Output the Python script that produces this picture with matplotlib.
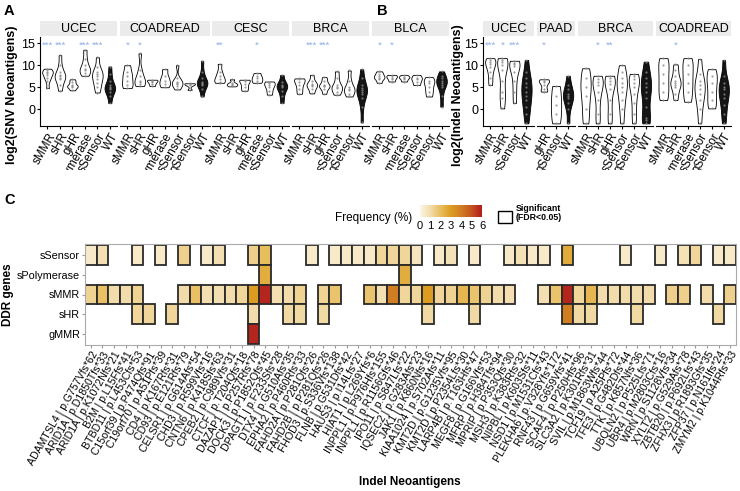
import numpy as np
import matplotlib
matplotlib.use("Agg")
from matplotlib import pyplot as plt
from matplotlib.patches import Rectangle
from matplotlib.colors import LinearSegmentedColormap, Normalize
from matplotlib.cm import ScalarMappable
from matplotlib.transforms import Bbox, TransformedBbox

plt.rcParams['font.family'] = ['Liberation Sans', 'DejaVu Sans']

# ---- panel A: log2(SNV neoantigens) ----
snv_ucec = {
    'sMMR': [4.8, 6.5, 7.2, 7.8, 8.2, 8.5, 8.8, 9.2],
    'sHR': [4.2, 5.5, 6.8, 7.2, 7.5, 7.8, 8.5, 10, 12.3],
    'gHR': [4.3, 5.0, 5.2, 5.5, 6.2, 6.8],
    'sPolymerase': [7.6, 8.3, 8.8, 9.2, 10, 11.5, 13.5],
    'sSensor': [3.8, 5.0, 6.0, 6.8, 7.5, 8.0, 8.5, 9.5, 11.8],
    'WT': [1.4, 3.0, 4.0, 4.5, 4.8, 5.0, 5.5, 6.5, 8.0, 9.7],
}
snv_coadread = {
    'sMMR': [4.8, 5.5, 6.5, 7.5, 8.5, 10],
    'sHR': [5.3, 5.8, 6.2, 6.5, 7.5, 9.0, 12.7],
    'gHR': [5.3, 5.8, 6.2, 6.5, 6.7],
    'sPolymerase': [5.0, 5.8, 6.5, 7.5, 9.1],
    'sSensor': [4.5, 5.3, 5.7, 6.0, 6.3, 7.0, 10],
    'gSensor': [4.4, 5.5, 5.8, 5.9],
    'WT': [2.9, 4.5, 5.5, 5.8, 6.0, 6.3, 7.0, 8.5, 11],
}
snv_cesc = {
    'sMMR': [6.0, 6.3, 6.8, 7.5, 8.5, 10.3],
    'sHR': [5.2, 5.5, 5.7, 6.0, 6.8],
    'gHR': [4.2, 5.0, 5.8, 6.5, 6.7],
    'sPolymerase': [6.0, 6.5, 7.0, 7.5, 8.2],
    'sSensor': [3.3, 4.2, 5.0, 5.5, 6.0, 6.3],
    'WT': [1.4, 3.0, 4.2, 5.0, 5.2, 5.5, 6.2, 7.8],
}
snv_brca = {
    'sMMR': [3.5, 4.5, 5.5, 6.2, 6.8, 7.0],
    'sHR': [3.6, 4.5, 5.2, 5.5, 5.8, 6.5, 7.8],
    'gHR': [3.5, 4.5, 5.2, 5.3, 5.6, 6.5, 7.3],
    'sSensor': [3.3, 4.0, 4.8, 5.0, 5.5, 7.0, 8.6],
    'gSensor': [2.9, 3.5, 4.4, 4.6, 5.0, 6.5, 8.8],
    'WT': [-3.0, 0.5, 2.5, 3.5, 4.0, 4.4, 4.8, 5.5, 7.0, 9.1],
}
snv_blca = {
    'sMMR': [6.0, 6.8, 7.2, 7.5, 8.0, 8.6],
    'sHR': [6.3, 6.8, 7.2, 7.5, 7.8],
    'sPolymerase': [6.3, 6.8, 7.2, 7.4, 7.8],
    'sSensor': [5.5, 6.2, 6.8, 7.2, 7.8],
    'gSensor': [2.9, 4.0, 5.0, 6.0, 6.5, 7.3],
    'WT': [0.6, 3.0, 5.0, 5.5, 6.0, 6.5, 7.0, 7.5, 8.6],
}
snv_facets = ['UCEC', 'COADREAD', 'CESC', 'BRCA', 'BLCA']
snv_data = [snv_ucec, snv_coadread, snv_cesc, snv_brca, snv_blca]
snv_stars = [
    {'sMMR': '***', 'sHR': '***', 'sPolymerase': '***', 'sSensor': '***'},
    {'sMMR': '*', 'sHR': '*'},
    {'sMMR': '**', 'sPolymerase': '*'},
    {'sHR': '***', 'gHR': '***'},
    {'sMMR': '*', 'sHR': '*'},
]

# ---- panel B: log2(Indel neoantigens) ----
indel_ucec = {
    'sMMR': [5.5, 7.0, 8.5, 9.5, 10.2, 10.8, 11.2, 11.6],
    'sHR': [0.2, 2.5, 4.0, 6.5, 9.0, 10, 10.8, 11.2, 11.6],
    'sSensor': [1.4, 4.0, 6.5, 8.5, 9.8, 10.3, 10.6, 11],
    'WT': [-3.2, -1.0, 0.5, 2.0, 3.0, 4.0, 5.0, 6.0, 7.0, 8.5, 11.2],
}
indel_paad = {
    'gHR': [4.0, 4.5, 5.5, 6.2, 6.5, 6.8],
    'gSensor': [-3.2, -1.0, 1.0, 3.0, 5.3],
    'WT': [-3.2, 0.0, 1.5, 2.5, 3.0, 3.5, 4.5, 5.5, 7.6],
}
indel_brca = {
    'sMMR': [-3.2, 0.0, 3.0, 5.0, 7.0, 9.3],
    'sHR': [-3.2, -1.0, 2.0, 4.0, 5.5, 6.2, 6.8, 7.6],
    'gHR': [-3.2, -1.0, 2.0, 4.5, 5.8, 6.5, 7.0, 7.6],
    'sSensor': [-3.2, 0.0, 2.0, 4.0, 5.0, 6.0, 7.0, 8.5, 10],
    'gSensor': [-3.2, -1.0, 1.5, 3.5, 5.0, 6.0, 6.8, 7.5, 8.0],
    'WT': [-3.2, -2.5, -2.0, 0.5, 2.5, 4.0, 5.0, 6.0, 7.0, 8.5, 10.8],
}
indel_coadread = {
    'sMMR': [2.1, 4.0, 6.0, 8.0, 10, 11.6],
    'sHR': [2.1, 3.5, 5.0, 5.5, 6.0, 6.5, 7.5, 9.0, 10.2],
    'sPolymerase': [1.7, 4.0, 6.0, 8.0, 10, 11.6],
    'sSensor': [-3.2, 0.0, 2.0, 3.5, 4.5, 5.5, 6.5, 8.0, 11.4],
    'gSensor': [0.2, 2.0, 4.0, 6.0, 7.5, 9.1],
    'WT': [-3.2, -1.0, 1.0, 2.5, 3.5, 4.5, 5.0, 6.0, 7.5, 11.2],
}
indel_facets = ['UCEC', 'PAAD', 'BRCA', 'COADREAD']
indel_data = [indel_ucec, indel_paad, indel_brca, indel_coadread]
indel_stars = [
    {'sMMR': '***', 'sHR': '*', 'sSensor': '***'},
    {'gHR': '*'},
    {'sHR': '*', 'gHR': '**'},
    {'sHR': '*'},
]

# ---- panel C: frequency (%) of indel neoantigens per DDR group ----
ddr_rows = ['sSensor', 'sPolymerase', 'sMMR', 'sHR', 'gMMR']
indel_labels = [
    'ADAMTSL4 | p.G757Vfs*62', 'ARID1A | p.D1850Tfs*33', 'ARID1A | p.K1072Nfs*21',
    'B2M | p.L15Ffs*41', 'BTBD11 | p.L453Cfs*53', 'C15orf39 | p.P474Qfs*91',
    'C19orf70 | p.A51Pfs*39', 'CD4 | p.K167Rfs*31', 'CD93 | p.E121Rfs*79',
    'CELSR1 | p.G614Afs*54', 'CHD3 | p.R599Vfs*16', 'CNTN6 | p.K418Sfs*63',
    'CPEB2 | p.C989Vfs*31', 'CTCF | p.T204Qfs*18', 'DAZAP1 | p.P257Rfs*78',
    'DOCK3 | p.P1852Qfs*45', 'DPAGT1 | p.F233Sfs*28', 'DTX4 | p.G510Afs*35',
    'EPHA2 | p.P460Rfs*33', 'FAHD2A | p.P281Qfs*26', 'FAHD2B | p.P281Qfs*26',
    'FHOD3 | p.S336Vfs*138', 'FLNB | p.G531Dfs*42', 'HAUS3 | p.I14Lfs*27',
    'HIAT1 | p.L269Yfs*6', 'INPPL1 | p.P976Hfs*155', 'INPPL1 | p.R1156Gfs*46',
    'IPO11 | p.S847Lfs*22', 'IQSEC2 | p.G283Afs*23', 'JAK1 | p.K860Nfs*16',
    'KIAA1024 | p.S702Afs*11', 'KMT2D | p.G1235Vfs*95', 'KMT2D | p.P2354Lfs*30',
    'LARP4B | p.T163Hfs*47', 'MEGF8 | p.G166Vfs*53', 'MFRP | p.H384Tfs*94',
    'MPRIP | p.P353Qfs*30', 'MSH3 | p.K383Rfs*32', 'NIPBL | p.K603Sfs*11',
    'NSD1 | p.M1531Cfs*43', 'PLEKHA6 | p.V328Yfs*172', 'RNF43 | p.G659Vfs*41',
    'SCAF4 | p.P250Hfs*96', 'SLC3A2 | p.K301Rfs*31', 'SVIL | p.M1863Wfs*44',
    'TCF19 | p.A25Pfs*72', 'TFE3 | p.G482Dfs*44', 'TTK | p.K857Nfs*36',
    'UBQLN2 | p.P525Lfs*71', 'UBR4 | p.M2803Cfs*16', 'WRN | p.S1128Vfs*34',
    'XYLT2 | p.G529Afs*78', 'ZBTB20 | p.P692Lfs*43', 'ZFHX3 | p.R1893Gfs*35',
    'ZFP37 | p.N161Ifs*24', 'ZMYM2 | p.K1044Rfs*33',
]
freq_ssensor = [0.5, 0.9, 0, 0, 0.5, 0, 0.5, 0, 1.4, 0, 0.5, 0.9, 0, 0, 1.4, 2.0,
                0, 0, 0, 0.5, 0, 0.5, 0.5, 0.5, 0.5, 1.2, 1.2, 1.2, 0.7, 0, 0.5, 0.8,
                0, 0.5, 0, 0, 0.5, 0.8, 0.5, 0.5, 0, 2.6, 0, 0, 0, 0, 0.5, 0,
                0, 0.5, 0, 0.8, 1.2, 0, 0.5, 0.5]
freq_spolymerase = [0] * 15 + [2.5] + [0] * 11 + [2.5] + [0] * 28
freq_smmr = [1.3, 1.9, 1.0, 1.0, 1.3, 0, 0, 0, 1.0, 1.9, 0.9, 0.9, 1.0, 1.2, 3.0, 5.8,
             0.9, 1.0, 1.3, 0, 1.3, 1.8, 0, 0, 1.8, 0.9, 4.0, 1.2, 1.2, 3.0, 1.2, 1.3,
             2.2, 1.8, 1.3, 1.0, 0.9, 0, 0, 0.9, 1.8, 5.8, 1.2, 2.2, 1.0, 1.0, 1.0, 1.0,
             1.0, 0, 1.4, 1.4, 0, 1.0, 0, 1.4]
freq_shr = [0, 0, 0, 0, 1.2, 1.2, 0, 1.2, 0, 0, 0, 0, 0, 0, 1.0, 0,
            0, 1.1, 1.1, 0, 1.1, 0, 0, 0, 0, 0, 0, 0, 0, 1.1, 0, 0,
            0, 1.1, 0, 0, 0, 0, 0, 0, 0, 4.0, 1.1, 1.1, 0, 0, 0, 1.1,
            0, 0, 0, 0, 0, 0, 1.1, 0]
freq_gmmr = [0] * 14 + [5.8] + [0] * 41

W, H = 740, 491
fig = plt.figure(figsize=(7.4, 4.91), dpi=100)

# tick labels of the top panels are cut where panel C begins
top_clip = TransformedBbox(Bbox([[0, 1 - 170 / H], [1, 1]]), fig.transFigure)


def px_axes(x0, y0, x1, y1):
    return fig.add_axes([x0 / W, 1 - y1 / H, (x1 - x0) / W, (y1 - y0) / H])


def violin_panel(facets, data, stars, x_left, x_right, gap):
    spans = [len(d) + 0.2 for d in data]
    unit = (x_right - x_left - gap * (len(data) - 1)) / sum(spans)
    x = x_left
    for k, (name, d, st) in enumerate(zip(facets, data, stars)):
        w = spans[k] * unit
        ax = px_axes(x, 37, x + w, 126)
        cats = list(d.keys())
        pos = np.arange(1, len(cats) + 1)
        parts = ax.violinplot([d[c] for c in cats], positions=pos, widths=0.85,
                              showextrema=False, bw_method=0.45)
        for c, body in zip(cats, parts['bodies']):
            body.set_facecolor('#151515' if c == 'WT' else 'white')
            body.set_edgecolor('black')
            body.set_linewidth(0.6)
            body.set_alpha(1)
        for p, c in zip(pos, cats):
            ax.scatter(np.full(len(d[c]), p), d[c], s=2.5, color='#888888',
                       alpha=0.8, zorder=3, linewidths=0)
            if c in st:
                ax.text(p, 14.6, st[c], color='#8fb0e6', fontsize=6.8,
                        ha='center', va='center')
        ax.set_xlim(0.4, len(cats) + 0.6)
        ax.set_ylim(-3.8, 16.4)
        ax.set_xticks(pos)
        ax.set_xticklabels(cats, rotation=60, ha='right', rotation_mode='anchor',
                           fontsize=8.5)
        for lbl in ax.get_xticklabels():
            lbl.set_clip_box(top_clip)
            lbl.set_clip_on(True)
        ax.tick_params(axis='x', length=2, pad=1.5)
        for s in ['top', 'right']:
            ax.spines[s].set_visible(False)
        ax.spines['bottom'].set_linewidth(0.8)
        if k == 0:
            ax.set_yticks([0, 5, 10, 15])
            ax.tick_params(axis='y', labelsize=9, length=2, pad=1.5)
            ax.spines['left'].set_linewidth(0.8)
        else:
            ax.spines['left'].set_visible(False)
            ax.set_yticks([])
        sax = px_axes(x, 21, x + w, 36)
        sax.set_facecolor('#ebebeb')
        sax.set_xticks([])
        sax.set_yticks([])
        for s in sax.spines.values():
            s.set_visible(False)
        sax.text(0.5, 0.45, name, ha='center', va='center', fontsize=9,
                 transform=sax.transAxes)
        x += w + gap


violin_panel(snv_facets, snv_data, snv_stars, 40, 449, 2.5)
violin_panel(indel_facets, indel_data, indel_stars, 483, 731, 3)
fig.text(12 / W, 1 - 95 / H, 'log2(SNV Neoantigens)', rotation=90, fontsize=9,
         fontweight='bold', ha='center', va='center')
fig.text(458 / W, 1 - 95 / H, 'log2(Indel Neoantigens)', rotation=90, fontsize=9,
         fontweight='bold', ha='center', va='center')

# ---- heatmap ----
cmap = LinearSegmentedColormap.from_list(
    'freq', [(0, '#fdf6e8'), (1 / 6, '#f2dcaa'), (2 / 6, '#e8bd5c'),
             (3 / 6, '#dc9c22'), (4 / 6, '#d17d22'), (5 / 6, '#c4531f'),
             (1, '#b01c1c')])
norm = Normalize(0, 6)
freq = np.array([freq_ssensor, freq_spolymerase, freq_smmr, freq_shr, freq_gmmr])

hx = px_axes(85, 244, 736, 345)
for i in range(freq.shape[0]):
    for j in range(freq.shape[1]):
        if freq[i, j] > 0:
            hx.add_patch(Rectangle((j - 0.5, i - 0.5), 1, 1,
                                   facecolor=cmap(norm(freq[i, j])),
                                   edgecolor='#2a2a2a', linewidth=1.3))
hx.set_xlim(-0.5, len(indel_labels) - 0.5)
hx.set_ylim(len(ddr_rows) - 0.45, -0.55)
hx.set_yticks(range(len(ddr_rows)))
hx.set_yticklabels(ddr_rows, fontsize=7.8)
hx.set_xticks(range(len(indel_labels)))
hx.set_xticklabels(indel_labels, rotation=60, ha='right', rotation_mode='anchor',
                   fontsize=7.6)
hx.tick_params(length=2, pad=1.5, color='#999999')
for s in hx.spines.values():
    s.set_color('#aaaaaa')
    s.set_linewidth(0.8)
fig.text(8 / W, 1 - 295 / H, 'DDR genes', rotation=90, fontsize=8.5,
         fontweight='bold', ha='center', va='center')
fig.text(410 / W, 1 - 482 / H, 'Indel Neoantigens', fontsize=8.5,
         fontweight='bold', ha='center', va='center')

# legend
cax = px_axes(420, 205, 482, 217)
cb = fig.colorbar(ScalarMappable(norm=norm, cmap=cmap), cax=cax,
                  orientation='horizontal', ticks=range(7))
cb.outline.set_visible(False)
cax.tick_params(labelsize=8, length=2, pad=1, color='white')
fig.text(412 / W, 1 - 218 / H, 'Frequency (%)', fontsize=8.5, ha='right', va='center')
fig.patches.append(Rectangle((498 / W, 1 - 223 / H), 14 / W, 12 / H,
                             transform=fig.transFigure, facecolor='white',
                             edgecolor='black', linewidth=1))
fig.text(516 / W, 1 - 213 / H, 'Significant\n(FDR<0.05)', fontsize=6.3,
         fontweight='bold', ha='left', va='center', linespacing=1.1)

# panel letters
for lab, lx, ly in [('A', 4, 11), ('B', 377, 11), ('C', 4, 200)]:
    fig.text(lx / W, 1 - ly / H, lab, fontsize=10.5, fontweight='bold',
             ha='left', va='center')

fig.savefig('out.png', dpi=100)
